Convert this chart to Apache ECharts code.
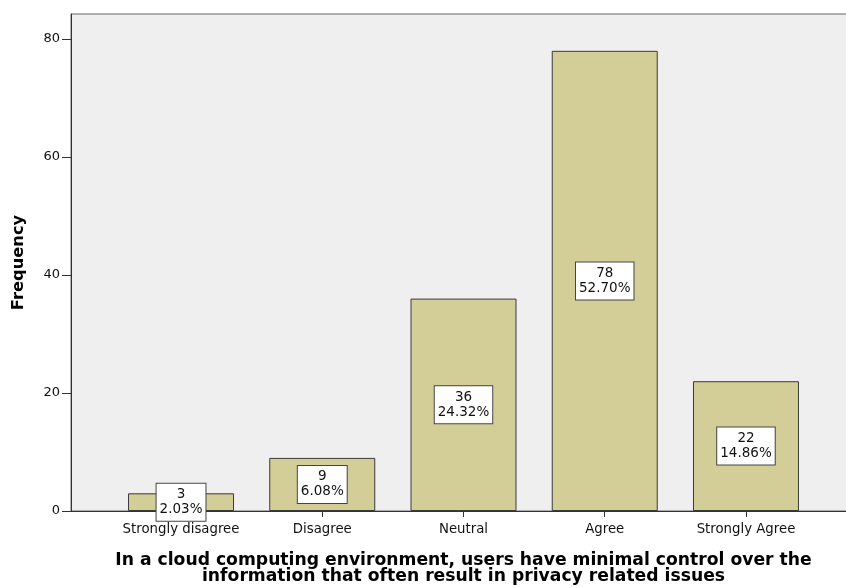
<!DOCTYPE html>
<html>
<head>
<meta charset="utf-8">
<script src="https://cdn.jsdelivr.net/npm/echarts@6/dist/echarts.min.js"></script>
<style>html,body{margin:0;padding:0;background:#fff}#c{width:846px;height:588px}</style>
</head>
<body>
<div id="c"></div>
<script>
const categories = ['Strongly disagree', 'Disagree', 'Neutral', 'Agree', 'Strongly Agree'];
const frequencies = [3, 9, 36, 78, 22];
const percents = ['2.03%', '6.08%', '24.32%', '52.70%', '14.86%'];
const yTicks = [0, 20, 40, 60, 80];
const xTitle = 'In a cloud computing environment, users have minimal control over the\ninformation that often result in privacy related issues';
const yTitle = 'Frequency';

const chart = echarts.init(document.getElementById('c'), null, {renderer: 'canvas'});
const idx = categories.map((_, i) => i);
const FONT = 'DejaVu Sans, Verdana, sans-serif';
chart.setOption({
  animation: false,
  grid: {left: 71, top: 14, right: -10, bottom: 77, containLabel: false, outerBoundsMode: 'none',
         show: true, backgroundColor: '#efefef', borderColor: '#666', borderWidth: 1},
  xAxis: {
    type: 'value', min: -0.779, max: 4.779,
    axisLine: {show: true, onZero: false, lineStyle: {color: '#333', width: 1}},
    axisTick: {show: true, customValues: idx, length: 6, lineStyle: {color: '#333'}},
    axisLabel: {customValues: idx, formatter: v => categories[Math.round(v)] || '', color: '#111', fontFamily: FONT, fontSize: 13.3, margin: 12},
    splitLine: {show: false},
    name: xTitle, nameLocation: 'middle', nameGap: 42,
    nameTextStyle: {fontFamily: FONT, fontWeight: 'bold', fontSize: 17.2, color: '#000', lineHeight: 16, align: 'center'}
  },
  yAxis: {
    type: 'value', min: 0, max: 84.24, interval: 20,
    axisLine: {show: true, onZero: false, lineStyle: {color: '#333', width: 1}},
    axisTick: {show: true, length: 9, lineStyle: {color: '#333'}, customValues: yTicks},
    axisLabel: {customValues: yTicks, color: '#111', fontFamily: FONT, fontSize: 13, margin: 11},
    splitLine: {show: false},
    name: yTitle, nameLocation: 'middle', nameGap: 44,
    nameTextStyle: {fontFamily: FONT, fontWeight: 'bold', fontSize: 16.3, color: '#000'}
  },
  series: [{
    type: 'bar',
    barWidth: 106,
    data: frequencies.map((v, i) => [i, v]),
    itemStyle: {color: '#d3ce98', borderColor: '#3a3a3a', borderWidth: 1},
    label: {
      show: true, position: 'inside',
      formatter: p => frequencies[p.dataIndex] + '\n' + percents[p.dataIndex],
      backgroundColor: '#fff', borderColor: '#444', borderWidth: 1,
      padding: [4, 3, 3, 3], color: '#111',
      fontFamily: FONT, fontSize: 13.5, lineHeight: 15, align: 'center'
    }
  }]
});
</script>
</body>
</html>
